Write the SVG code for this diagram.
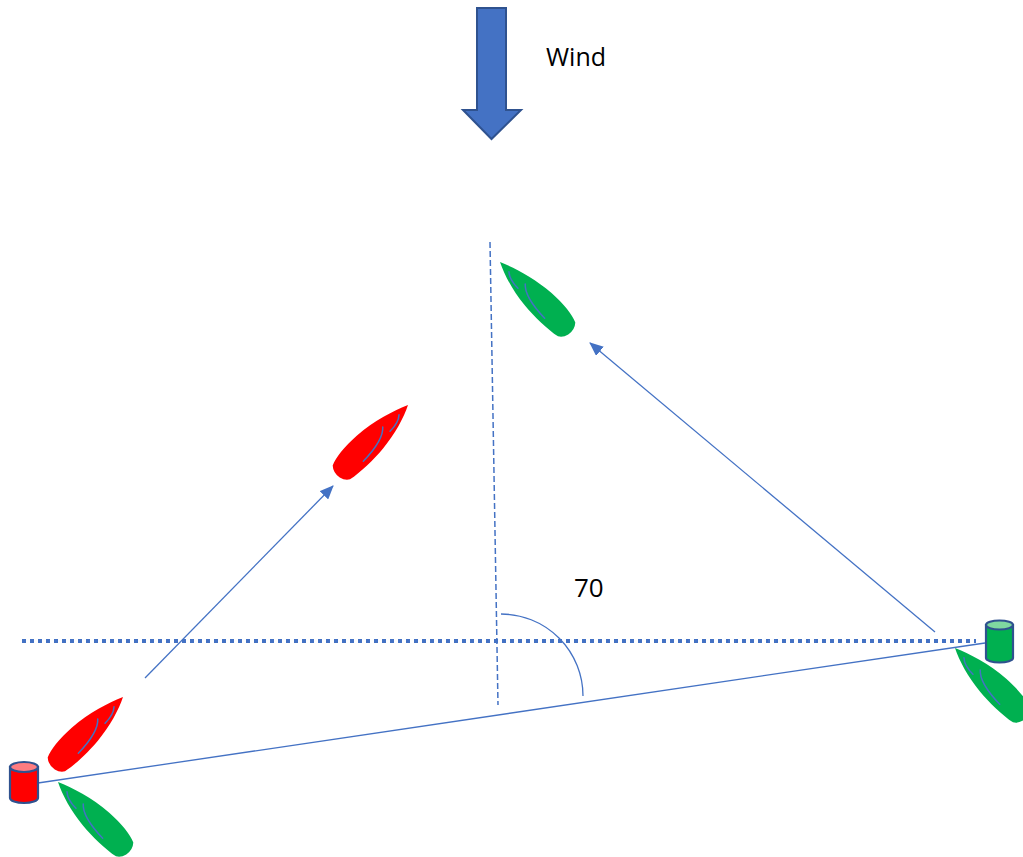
<svg xmlns="http://www.w3.org/2000/svg" width="1023" height="857" viewBox="0 0 1023 857">
<style>
.ln{fill:none;stroke:#4472C4;stroke-width:1.3}
.sail{fill:none;stroke:#4472C4;stroke-width:1.5;stroke-linecap:round}
.red{fill:#FF0000}
.green{fill:#00B050}
.buoy{stroke:#2F528F;stroke-width:2.2}
.txt{font-family:"Open Sans","Liberation Sans",sans-serif;fill:#000}
</style>
<defs>
<marker id="ah" viewBox="0 0 14 12" refX="13" refY="6" markerWidth="14" markerHeight="12" markerUnits="userSpaceOnUse" orient="auto">
<path d="M0,0 L14,6 L0,12 Z" fill="#4472C4"/>
</marker>
<g id="boat">
<path d="M0,0 C-6,14 -13,35 -14.5,58 C-15.5,75 -14,88 -10.5,96 Q-5,101 3,99.5 Q9,98 11.5,93.5 C14,82 14.5,62 13,48 C11.5,30 6,12 0,0 Z"/>
<path class="sail" d="M0.5,13.2 Q5.8,18.8 5.9,31.3"/>
<path class="sail" d="M-2.3,33.4 Q7.5,42 8.2,71.4"/>
</g>
</defs>
<rect width="1023" height="857" fill="#FFFFFF"/>

<g id="wind">
<polygon points="477,8 506,8 506,110 521,110 491.5,139 463,110 477,110" fill="#4472C4" stroke="#2F528F" stroke-width="2"/>
<text class="txt" x="546" y="66" font-size="25">Wind</text>
</g>

<g id="connectors">
<line x1="490" y1="242" x2="498" y2="705" stroke="#4472C4" stroke-width="1.5" stroke-dasharray="6 3"/>
<line x1="22" y1="641" x2="976" y2="641" stroke="#4472C4" stroke-width="4" stroke-dasharray="4 4"/>
<line class="ln" x1="38" y1="783" x2="985" y2="643"/>
<path class="ln" d="M501,614 A82,82 0 0 1 583,696"/>
<line class="ln" x1="145" y1="678" x2="333" y2="486" marker-end="url(#ah)"/>
<line class="ln" x1="935" y1="632" x2="590" y2="343" marker-end="url(#ah)"/>
</g>

<g id="angle-label">
<text class="txt" x="574" y="597" font-size="26">70</text>
</g>

<g id="red-boat-mid" class="red"><use href="#boat" transform="translate(408,405) rotate(45)"/></g>
<g id="red-boat-low" class="red"><use href="#boat" transform="translate(123,697) rotate(45)"/></g>
<g id="green-boat-top" class="green"><use href="#boat" transform="translate(500,262) rotate(-45) scale(-1,1)"/></g>
<g id="green-boat-left" class="green"><use href="#boat" transform="translate(58,782) rotate(-45) scale(-1,1)"/></g>
<g id="green-boat-right" class="green"><use href="#boat" transform="translate(955,648) rotate(-45) scale(-1,1)"/></g>

<g id="red-buoy">
<path class="buoy" d="M10,767 L10,798 A14,5 0 0 0 38,798 L38,767 Z" fill="#FF0000"/>
<ellipse class="buoy" cx="24" cy="767" rx="14" ry="5" fill="#FF7C80"/>
</g>
<g id="green-buoy">
<path class="buoy" d="M986,625 L986,658 A13.5,4.5 0 0 0 1013,658 L1013,625 Z" fill="#00B050"/>
<ellipse class="buoy" cx="999.5" cy="625" rx="13.5" ry="4.5" fill="#7FD8A0"/>
</g>
</svg>
